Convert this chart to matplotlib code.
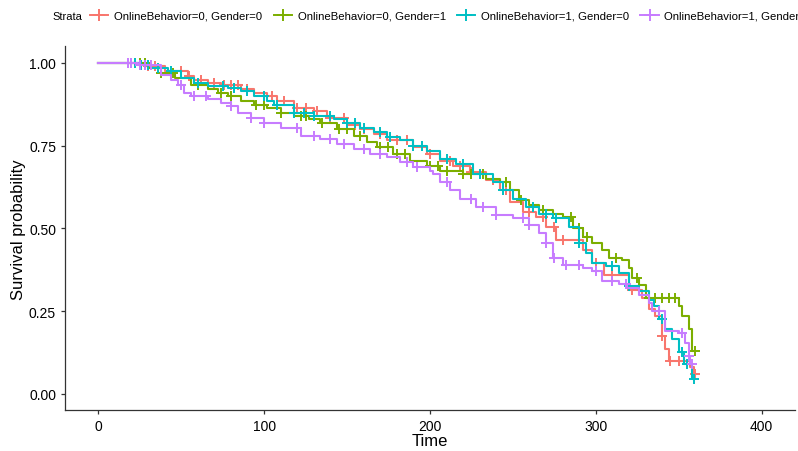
import numpy as np
import matplotlib
matplotlib.use('Agg')
import matplotlib.pyplot as plt
from matplotlib.lines import Line2D

plt.rcParams['font.family'] = ['Liberation Sans', 'DejaVu Sans']

# strata labels and colours (ggplot hue)
strata = ['OnlineBehavior=0, Gender=0', 'OnlineBehavior=0, Gender=1',
          'OnlineBehavior=1, Gender=0', 'OnlineBehavior=1, Gender=1']
colors = ['#F8766D', '#7CAE00', '#00BFC4', '#C77CFF']

# Kaplan-Meier step points
red_t = [0, 28, 40, 54, 58, 66, 74, 86, 94, 102, 108, 118, 130, 138, 150, 158, 166, 174, 190, 198,
         206, 214, 224, 234, 242, 248, 256, 264, 270, 276, 292, 298, 305, 320, 328, 332, 336, 340,
         342, 344, 357, 359, 360]
red_s = [1, .99, .975, .96, .95, .94, .934, .92, .91, .90, .886, .865, .856, .835, .814, .80, .784,
         .766, .745, .724, .705, .69, .67, .645, .615, .58, .55, .535, .505, .465, .435, .395, .36,
         .315, .29, .255, .235, .175, .135, .10, .08, .06, .06]
red_cens = [30, 34, 50, 55, 62, 70, 76, 80, 84, 90, 105, 112, 120, 125, 132, 140, 148, 155, 160,
            170, 180, 186, 200, 212, 218, 225, 238, 246, 260, 268, 275, 280, 300, 310, 322, 340,
            345, 350, 360]

green_t = [0, 30, 38, 46, 56, 66, 72, 78, 86, 94, 102, 110, 118, 127, 134, 144, 154, 162, 168, 178,
           188, 198, 206, 220, 234, 242, 248, 254, 260, 266, 274, 280, 286, 292, 298, 304, 308, 316,
           320, 322, 326, 330, 350, 352, 356, 358, 360]
green_s = [1, .985, .97, .955, .934, .92, .91, .90, .886, .874, .865, .85, .84, .83, .82, .80, .78,
           .76, .745, .724, .705, .69, .675, .665, .65, .64, .615, .585, .57, .555, .545, .535, .50,
           .475, .455, .435, .41, .405, .38, .35, .33, .29, .265, .235, .195, .13, .13]
green_cens = [22, 25, 28, 38, 45, 60, 74, 80, 95, 100, 110, 122, 125, 135, 145, 150, 158, 170, 175,
              180, 185, 200, 205, 210, 220, 225, 232, 246, 255, 268, 285, 290, 295, 312, 325, 332,
              336, 340, 344, 348, 360]

cyan_t = [0, 26, 32, 42, 50, 58, 66, 78, 86, 94, 102, 106, 118, 130, 142, 150, 158, 166, 174, 182,
          190, 198, 206, 216, 226, 238, 244, 250, 258, 266, 274, 284, 290, 294, 298, 306, 314, 320,
          326, 332, 335, 338, 342, 346, 350, 353, 358, 359]
cyan_s = [1, .995, .985, .975, .955, .94, .93, .925, .916, .90, .886, .874, .85, .84, .83, .82, .805,
          .79, .775, .766, .75, .735, .71, .694, .664, .64, .615, .59, .565, .545, .53, .505, .455,
          .425, .395, .385, .365, .325, .31, .285, .265, .225, .195, .165, .125, .09, .045, .045]
cyan_cens = [22, 26, 30, 36, 44, 60, 75, 82, 90, 100, 108, 118, 124, 130, 140, 150, 155, 160, 170,
             176, 190, 195, 210, 220, 230, 244, 262, 270, 276, 290, 310, 320, 340, 352, 355, 359]

purple_t = [0, 24, 38, 44, 48, 52, 56, 66, 74, 80, 84, 92, 100, 110, 122, 134, 144, 154, 164, 174,
            182, 190, 200, 202, 206, 212, 218, 228, 240, 250, 260, 266, 270, 274, 280, 292, 298, 304,
            314, 319, 326, 332, 334, 342, 350, 354, 356, 357, 358]
purple_s = [1, .994, .964, .95, .934, .91, .90, .89, .88, .87, .85, .835, .82, .805, .78, .77, .754,
            .74, .724, .715, .70, .685, .675, .664, .64, .615, .59, .565, .54, .53, .51, .485, .455,
            .41, .39, .38, .37, .34, .333, .32, .30, .273, .25, .19, .183, .153, .115, .09, .09]
purple_cens = [18, 20, 25, 28, 32, 50, 58, 65, 80, 92, 100, 120, 130, 140, 148, 160, 170, 186, 192,
               210, 225, 232, 240, 256, 260, 270, 275, 282, 290, 300, 310, 318, 338, 352, 356, 358]

curves = [(red_t, red_s, red_cens), (green_t, green_s, green_cens),
          (cyan_t, cyan_s, cyan_cens), (purple_t, purple_s, purple_cens)]

fig = plt.figure(figsize=(7.98, 4.52), dpi=100)
ax = fig.add_axes([0.0815, 0.09, 0.9145, 0.805])

for (t, s, cens), col in zip(curves, colors):
    t = np.array(t, dtype=float)
    s = np.array(s, dtype=float)
    ax.step(t, s, where='post', color=col, lw=1.5)
    c = np.array(cens, dtype=float)
    idx = np.searchsorted(t, c, side='right') - 1
    ax.plot(c, s[idx], ls='none', marker='+', ms=7, mew=1.4, color=col)

ax.set_xlim(-20, 420)
ax.set_ylim(-0.05, 1.05)
ax.set_xticks([0, 100, 200, 300, 400])
ax.set_yticks([0, 0.25, 0.5, 0.75, 1.0])
ax.set_yticklabels(['0.00', '0.25', '0.50', '0.75', '1.00'])
for side in ['top', 'right']:
    ax.spines[side].set_visible(False)
for side in ['left', 'bottom']:
    ax.spines[side].set_color('#333333')
    ax.spines[side].set_linewidth(0.9)
ax.tick_params(length=3, width=0.9, color='#333333', labelsize=10, labelcolor='black')
ax.set_xlabel('Time', fontsize=12, labelpad=0)
ax.set_ylabel('Survival probability', fontsize=12, labelpad=2)

handles = [Line2D([], [], color=c, lw=1.4, marker='+', ms=9, mew=1.4) for c in colors]
fig.text(0.066, 0.963, 'Strata', fontsize=8, va='center')
fig.legend(handles, strata, loc='center left', bbox_to_anchor=(0.113, 0.963), ncol=4,
           frameon=False, fontsize=8.2, handlelength=1.6, handletextpad=0.5, columnspacing=1.0,
           borderaxespad=0, borderpad=0)

fig.savefig('out.png', dpi=100)
